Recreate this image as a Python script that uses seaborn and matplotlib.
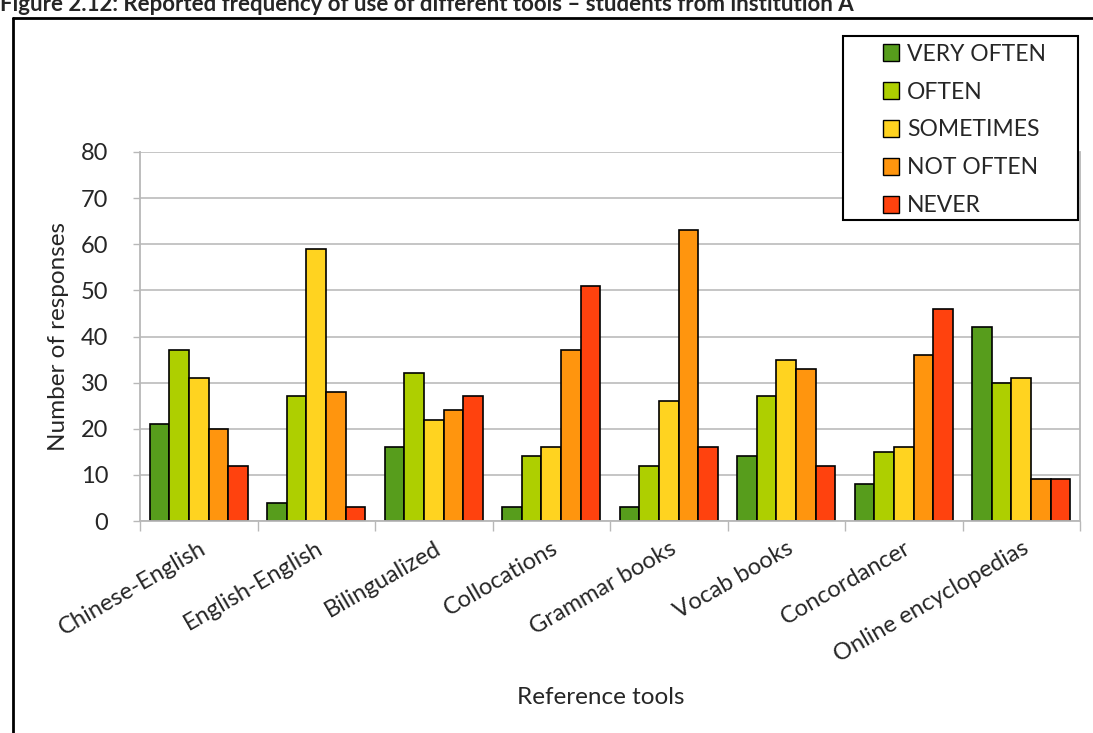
import matplotlib
matplotlib.use("Agg")
import matplotlib.pyplot as plt
from matplotlib.lines import Line2D
from matplotlib.patches import Patch, Rectangle
import seaborn as sns
import pandas as pd
import numpy as np

tools = ["Chinese-English", "English-English", "Bilingualized", "Collocations",
         "Grammar books", "Vocab books", "Concordancer", "Online encyclopedias"]
levels = ["VERY OFTEN", "OFTEN", "SOMETIMES", "NOT OFTEN", "NEVER"]
very_often = [21, 4, 16, 3, 3, 14, 8, 42]
often = [37, 27, 32, 14, 12, 27, 15, 30]
sometimes = [31, 59, 22, 16, 26, 35, 16, 31]
not_often = [20, 28, 24, 37, 63, 33, 36, 9]
never = [12, 3, 27, 51, 16, 12, 46, 9]
colors = ["#579D1C", "#AECF00", "#FFD320", "#FF950E", "#FF420E"]

series = [very_often, often, sometimes, not_often, never]
df = pd.DataFrame([
    {"tool": t, "level": lv, "count": vals[i]}
    for lv, vals in zip(levels, series)
    for i, t in enumerate(tools)
])

sns.set_style("white")
plt.rcParams["font.family"] = ["Lato", "DejaVu Sans"]

fig = plt.figure(figsize=(10.93, 7.33), dpi=100)
W, H = 1093, 733
ax = fig.add_axes([140 / W, 1 - 521 / H, (1080 - 140) / W, (521 - 152) / H])

sns.barplot(data=df, x="tool", y="count", hue="level", order=tools,
            hue_order=levels, palette=colors, width=0.83, gap=0,
            edgecolor="black", linewidth=1.2, saturation=1, ax=ax, legend=False)

ax.set_ylim(0, 80)
ax.set_xlim(-0.5, len(tools) - 0.5)
ax.set_yticks(np.arange(0, 81, 10))
ax.yaxis.grid(True, color="#c0c0c0", linewidth=1.3)
ax.set_axisbelow(True)
ax.spines["top"].set_visible(False)
for side in ["left", "bottom", "right"]:
    ax.spines[side].set_color("#b8b8b8")
    ax.spines[side].set_linewidth(1.3)

ax.tick_params(axis="y", labelsize=17, length=5, color="#b8b8b8", width=1.0, pad=18, left=True)
ax.set_xticks(range(len(tools)))
ax.set_xticklabels(tools, rotation=30, ha="right", rotation_mode="anchor", fontsize=17)
ax.tick_params(axis="x", length=0, pad=12)
ax.set_xticks(np.arange(-0.5, len(tools), 1.0), minor=True)
ax.tick_params(axis="x", which="minor", length=7, color="#b8b8b8", width=1.0, bottom=True)

ax.set_ylabel("Number of responses", fontsize=17.5, labelpad=8)
ax.set_xlabel("Reference tools", fontsize=17.5)
ax.xaxis.set_label_coords(0.49, 1 - (698 - 152) / (521 - 152))
ax.xaxis.label.set_va("center")

# legend in a framed box at the upper right
fig.add_artist(Rectangle((843 / W, 1 - 220 / H), (1078 - 843) / W, (220 - 36) / H,
                         transform=fig.transFigure, facecolor="white",
                         edgecolor="black", linewidth=1.5, zorder=5))
handles = [Patch(facecolor=c, edgecolor="black", linewidth=1.0) for c in colors]
leg = fig.legend(handles, levels, loc="upper left",
                 bbox_to_anchor=(878 / W, 1 - 39 / H), fontsize=16.5,
                 frameon=False, handlelength=0.72, handleheight=0.72,
                 handletextpad=0.35, labelspacing=0.74, borderpad=0.2,
                 borderaxespad=0)
leg.set_zorder(6)

# outer chart frame
fig.add_artist(Line2D([13 / W, 13 / W], [1 - 18 / H, 0], transform=fig.transFigure,
                      color="black", linewidth=2))
fig.add_artist(Line2D([13 / W, 1], [1 - 18 / H, 1 - 18 / H], transform=fig.transFigure,
                      color="black", linewidth=2))

fig.text(0.0, 1 - 11 / H,
         "Figure 2.12: Reported frequency of use of different tools \u2013 students from institution A",
         fontsize=16, fontweight="bold", ha="left", va="baseline")

fig.savefig("out.png", dpi=100)
